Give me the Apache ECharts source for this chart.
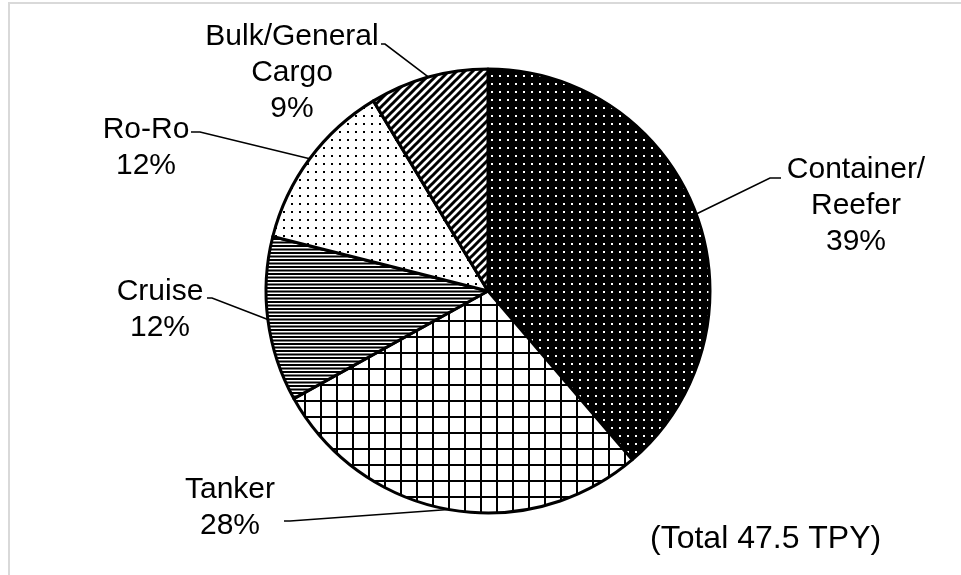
<!DOCTYPE html>
<html>
<head>
<meta charset="utf-8">
<title>Emissions by vessel type</title>
<script src="https://cdn.jsdelivr.net/npm/echarts@6/dist/echarts.min.js"></script>
<style>
    html, body {
        margin: 0;
        padding: 0;
        background: #fff;
    }
    #chart {
        width: 961px;
        height: 575px;
    }
</style>
</head>
<body>
<div id="chart"></div>
<script>
// vessel categories, clockwise from 12 o'clock
const categories = ['Container/\nReefer', 'Tanker', 'Cruise', 'Ro-Ro', 'Bulk/General\nCargo']
// emissions per category (TPY), total 47.5
const emissions = [18.4, 13.4, 5.7, 5.9, 4.1]
const totalText = '(Total 47.5 TPY)'

// where each label sits, and the bend of its leader line
const labelPlaces = [
    { x: 856, y: 206, bend: [770, 178], end: [781, 178] },
    { x: 230, y: 508, bend: [290, 521], end: [284, 521] },
    { x: 160, y: 310, bend: [212, 298], end: [207, 298] },
    { x: 146, y: 148, bend: [200, 132], end: [191, 132] },
    { x: 292, y: 73, bend: [385, 44], end: [381, 44] }
]

// small canvas tiles used as black & white fill patterns
function makeTile(w, h, draw) {
    const c = document.createElement('canvas')
    c.width = w
    c.height = h
    const ctx = c.getContext('2d')
    draw(ctx, w, h)
    return { image: c, repeat: 'repeat' }
}

const patterns = [
    // white dots on black
    makeTile(8, 8, (ctx, w, h) => {
        ctx.fillStyle = '#000'
        ctx.fillRect(0, 0, w, h)
        ctx.fillStyle = '#fff'
        ctx.fillRect(3, 3, 2, 2)
    }),
    // square grid
    makeTile(16, 16, (ctx, w, h) => {
        ctx.fillStyle = '#fff'
        ctx.fillRect(0, 0, w, h)
        ctx.fillStyle = '#000'
        ctx.fillRect(0, 0, w, 2)
        ctx.fillRect(0, 0, 2, h)
    }),
    // fine horizontal lines
    makeTile(4, 7, (ctx, w, h) => {
        ctx.fillStyle = '#fff'
        ctx.fillRect(0, 0, w, h)
        ctx.fillStyle = '#000'
        ctx.fillRect(0, 0, w, 2)
        ctx.fillRect(0, 3.5, w, 2)
    }),
    // sparse black dots
    makeTile(8, 8, (ctx, w, h) => {
        ctx.fillStyle = '#fff'
        ctx.fillRect(0, 0, w, h)
        ctx.fillStyle = '#000'
        ctx.fillRect(3, 3, 2, 2)
    }),
    // wide diagonal stripes
    makeTile(8, 8, (ctx, w, h) => {
        ctx.fillStyle = '#fff'
        ctx.fillRect(0, 0, w, h)
        ctx.strokeStyle = '#000'
        ctx.lineWidth = 3
        ctx.beginPath()
        ctx.moveTo(-2, h + 2)
        ctx.lineTo(w + 2, -2)
        ctx.moveTo(-2, 2)
        ctx.lineTo(2, -2)
        ctx.moveTo(w - 2, h + 2)
        ctx.lineTo(w + 2, h - 2)
        ctx.stroke()
    })
]

const chartInstance = echarts.init(document.getElementById('chart'))

const seriesData = categories.map((name, i) => ({
    name: name,
    value: emissions[i],
    itemStyle: { color: patterns[i] }
}))

const option = {
    animation: false,
    textStyle: {
        fontFamily: 'Liberation Sans, Arial, sans-serif'
    },
    graphic: [
        {
            // light frame of the chart area
            type: 'rect',
            silent: true,
            shape: { x: 9, y: 3, width: 1200, height: 1000 },
            style: { fill: 'none', stroke: '#d9d9d9', lineWidth: 2 }
        },
        {
            type: 'text',
            silent: true,
            left: 650,
            top: 523,
            style: {
                text: totalText,
                fill: '#000',
                font: '32px "Liberation Sans", Arial, sans-serif'
            }
        }
    ],
    series: [
        {
            type: 'pie',
            center: [488, 291],
            radius: 222,
            startAngle: 90,
            clockwise: true,
            silent: true,
            emphasis: { disabled: true },
            data: seriesData,
            itemStyle: {
                borderColor: '#000',
                borderWidth: 3
            },
            label: {
                show: true,
                position: 'outside',
                color: '#000',
                fontSize: 30,
                lineHeight: 36,
                align: 'center',
                fontFamily: 'Liberation Sans, Arial, sans-serif',
                formatter: p => p.name + '\n' + Math.round(p.percent) + '%'
            },
            labelLine: {
                show: true,
                length: 20,
                length2: 10,
                lineStyle: { color: '#000', width: 1.6 }
            },
            labelLayout: params => {
                const place = labelPlaces[params.dataIndex]
                const start = params.labelLinePoints ? params.labelLinePoints[0] : place.bend
                return {
                    x: place.x,
                    y: place.y,
                    align: 'center',
                    verticalAlign: 'middle',
                    labelLinePoints: [start, place.bend, place.end]
                }
            }
        }
    ]
}

chartInstance.setOption(option)
</script>
</body>
</html>
